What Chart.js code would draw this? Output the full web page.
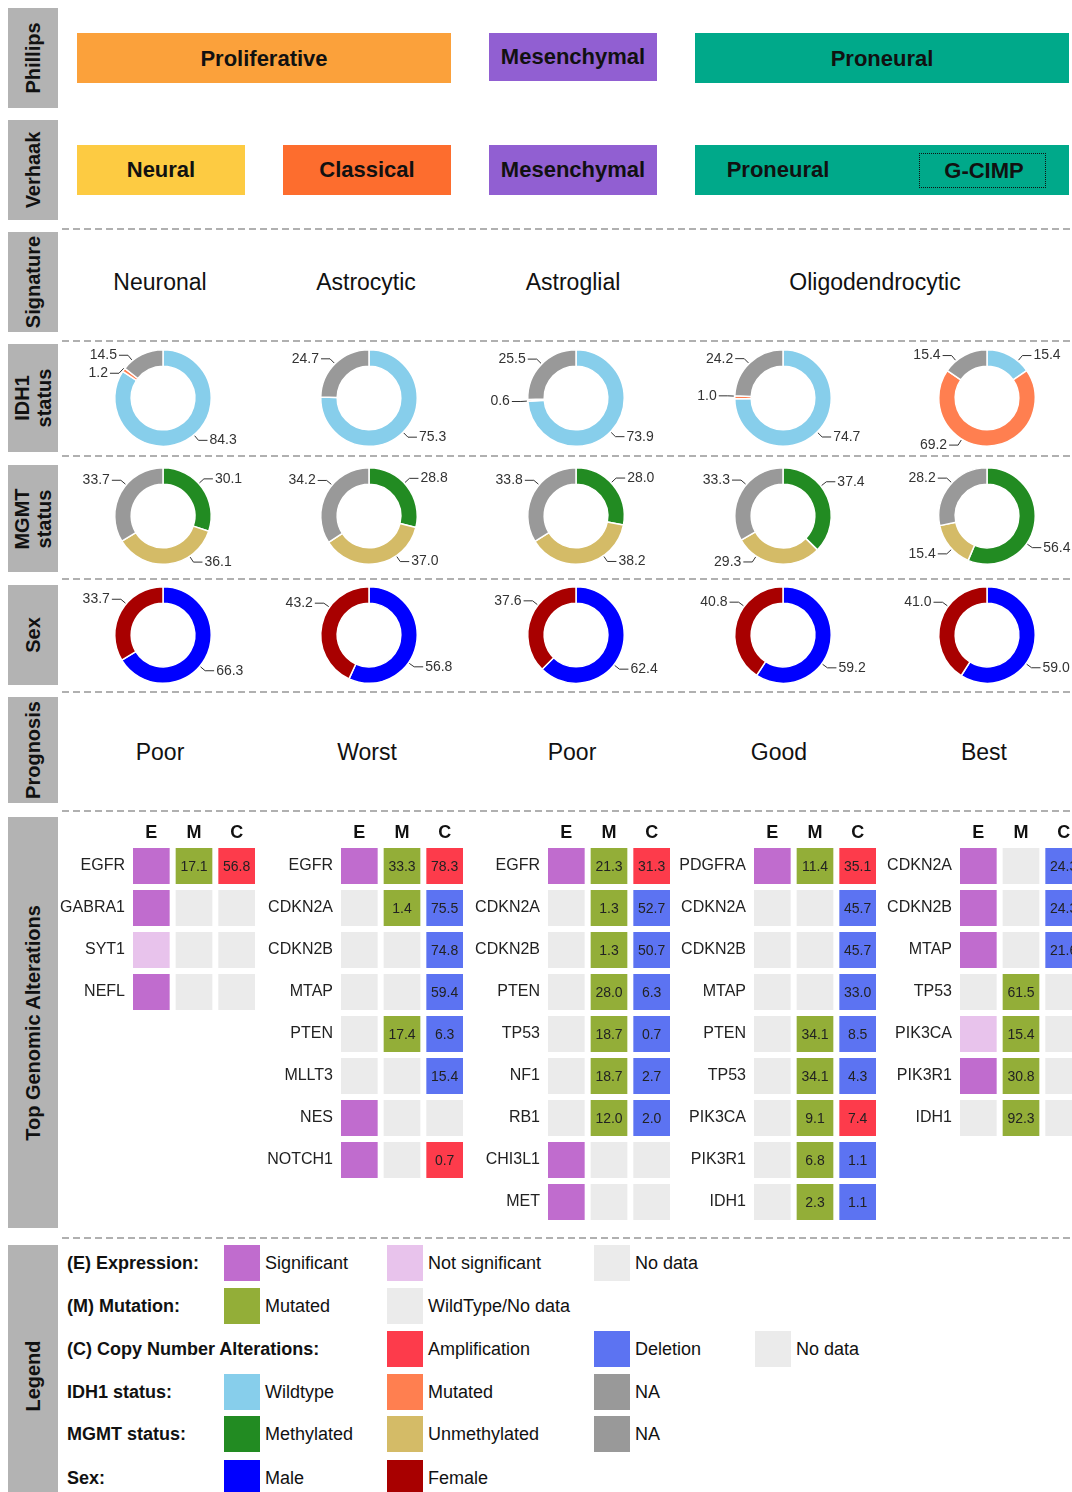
<!DOCTYPE html>
<html>
<head>
<meta charset="utf-8">
<script src="https://cdn.jsdelivr.net/npm/chart.js@4.4.1/dist/chart.umd.min.js"></script>
<style>
body{margin:0;background:#fff;font-family:"Liberation Sans",Arial,sans-serif;}
#page{position:relative;width:1072px;height:1492px;overflow:hidden;}
.side{position:absolute;left:8px;width:50px;background:#b3b3b3;}
.side span{position:absolute;left:50%;top:50%;transform:translate(-50%,-50%) rotate(-90deg);font-weight:bold;font-size:20px;white-space:nowrap;text-align:center;line-height:22px;color:#111;}
.dash{position:absolute;left:62px;width:1010px;height:2px;background:repeating-linear-gradient(90deg,#b0b0b0 0 7px,transparent 7px 11px);}
.box{position:absolute;height:50px;display:flex;align-items:center;justify-content:center;font-weight:bold;font-size:22px;color:#111;}
.txt{position:absolute;font-size:23px;color:#111;transform:translate(-50%,-50%);white-space:nowrap;}
canvas{position:absolute;}
.lg{position:absolute;font-size:18px;color:#111;transform:translateY(-50%);white-space:nowrap;}
.lg.b{font-weight:bold;}
.sw{position:absolute;width:36px;height:36px;transform:translateY(-50%);}
</style>
</head>
<body>
<div id="page"></div>
<script>
// subtype columns
const subtypes = ['Neural', 'Classical', 'Mesenchymal', 'Proneural', 'G-CIMP'];
const signatures = ['Neuronal', 'Astrocytic', 'Astroglial', 'Oligodendrocytic'];
const prognosis = ['Poor', 'Worst', 'Poor', 'Good', 'Best'];

// IDH1 status (%)
const idh1Wildtype = [84.3, 75.3, 73.9, 74.7, 15.4];
const idh1Mutated = [1.2, 0, 0.6, 1.0, 69.2];
const idh1NA = [14.5, 24.7, 25.5, 24.2, 15.4];
// MGMT status (%)
const mgmtMethylated = [30.1, 28.8, 28.0, 37.4, 56.4];
const mgmtUnmethylated = [36.1, 37.0, 38.2, 29.3, 15.4];
const mgmtNA = [33.7, 34.2, 33.8, 33.3, 28.2];
// Sex (%)
const sexMale = [66.3, 56.8, 62.4, 59.2, 59.0];
const sexFemale = [33.7, 43.2, 37.6, 40.8, 41.0];

// genomic alterations: expression S=significant N=not significant ''=no data
// cna kind A=amplification D=deletion
const genesNeural = ['EGFR', 'GABRA1', 'SYT1', 'NEFL'];
const exprNeural = ['S', 'S', 'N', 'S'];
const mutNeural = [17.1, null, null, null];
const cnaNeural = [56.8, null, null, null];
const cnaKindNeural = ['A', '', '', ''];

const genesClassical = ['EGFR', 'CDKN2A', 'CDKN2B', 'MTAP', 'PTEN', 'MLLT3', 'NES', 'NOTCH1'];
const exprClassical = ['S', '', '', '', '', '', 'S', 'S'];
const mutClassical = [33.3, 1.4, null, null, 17.4, null, null, null];
const cnaClassical = [78.3, 75.5, 74.8, 59.4, 6.3, 15.4, null, 0.7];
const cnaKindClassical = ['A', 'D', 'D', 'D', 'D', 'D', '', 'A'];

const genesMesenchymal = ['EGFR', 'CDKN2A', 'CDKN2B', 'PTEN', 'TP53', 'NF1', 'RB1', 'CHI3L1', 'MET'];
const exprMesenchymal = ['S', '', '', '', '', '', '', 'S', 'S'];
const mutMesenchymal = [21.3, 1.3, 1.3, 28.0, 18.7, 18.7, 12.0, null, null];
const cnaMesenchymal = [31.3, 52.7, 50.7, 6.3, 0.7, 2.7, 2.0, null, null];
const cnaKindMesenchymal = ['A', 'D', 'D', 'D', 'D', 'D', 'D', '', ''];

const genesProneural = ['PDGFRA', 'CDKN2A', 'CDKN2B', 'MTAP', 'PTEN', 'TP53', 'PIK3CA', 'PIK3R1', 'IDH1'];
const exprProneural = ['S', '', '', '', '', '', '', '', ''];
const mutProneural = [11.4, null, null, null, 34.1, 34.1, 9.1, 6.8, 2.3];
const cnaProneural = [35.1, 45.7, 45.7, 33.0, 8.5, 4.3, 7.4, 1.1, 1.1];
const cnaKindProneural = ['A', 'D', 'D', 'D', 'D', 'D', 'A', 'D', 'D'];

const genesGCIMP = ['CDKN2A', 'CDKN2B', 'MTAP', 'TP53', 'PIK3CA', 'PIK3R1', 'IDH1'];
const exprGCIMP = ['S', 'S', 'S', '', 'N', 'S', ''];
const mutGCIMP = [null, null, null, 61.5, 15.4, 30.8, 92.3];
const cnaGCIMP = [24.3, 24.3, 21.6, null, null, null, null];
const cnaKindGCIMP = ['D', 'D', 'D', '', '', '', ''];

const C = {
  sig: '#c06cce', notsig: '#e8c3ec', nodata: '#ebebeb', mut: '#93ae38',
  amp: '#fd3b4b', del: '#5c73f2',
  wt: '#87ceeb', idhmut: '#ff7f50', na: '#999999',
  meth: '#228b22', unmeth: '#d4bb67', male: '#0000ff', female: '#a80000'
};

const page = document.getElementById('page');
function add(tag, cls, css, html) {
  const el = document.createElement(tag);
  if (cls) el.className = cls;
  Object.assign(el.style, css);
  if (html !== undefined) el.innerHTML = html;
  page.appendChild(el);
  return el;
}

// row headers
[['Phillips', 8, 100], ['Verhaak', 120, 100], ['Signature', 232, 100], ['IDH1<br>status', 344, 108],
 ['MGMT<br>status', 465, 107], ['Sex', 585, 100], ['Prognosis', 697, 106],
 ['Top Genomic Alterations', 817, 411], ['Legend', 1245, 262]].forEach(([t, y, h]) => {
  const d = add('div', 'side', {top: y + 'px', height: h + 'px'});
  d.innerHTML = '<span>' + t + '</span>';
});
[228, 340, 455, 578, 691, 810, 1237].forEach(y => add('div', 'dash', {top: y + 'px'}));

// subtype boxes
const colX = [163, 369, 576, 783, 987];
add('div', 'box', {left: '77px', top: '33px', width: '374px', background: '#fba13b', paddingTop: '2px', boxSizing: 'border-box'}, 'Proliferative');
add('div', 'box', {left: '489px', top: '33px', width: '168px', height: '48px', background: '#915fd2'}, 'Mesenchymal');
add('div', 'box', {left: '695px', top: '33px', width: '374px', background: '#00a98a', paddingTop: '2px', boxSizing: 'border-box'}, 'Proneural');
add('div', 'box', {left: '77px', top: '145px', width: '168px', background: '#fdcb42'}, subtypes[0]);
add('div', 'box', {left: '283px', top: '145px', width: '168px', background: '#fd6d2e'}, subtypes[1]);
add('div', 'box', {left: '489px', top: '145px', width: '168px', background: '#915fd2'}, subtypes[2]);
add('div', 'box', {left: '695px', top: '145px', width: '374px', background: '#00a98a'});
add('div', 'box', {left: '700px', top: '145px', width: '156px', background: 'transparent'}, subtypes[3]);
add('div', 'box', {left: '919px', top: '153px', width: '122px', height: '33px', border: '1.5px dotted #111', paddingLeft: '3px', boxSizing: 'content-box'}, subtypes[4]);

// signature and prognosis text
[160, 366, 573, 875].forEach((x, i) => add('div', 'txt', {left: x + 'px', top: '282px'}, signatures[i]));
[160, 367, 572, 779, 984].forEach((x, i) => add('div', 'txt', {left: x + 'px', top: '752px'}, prognosis[i]));

// doughnut label plugin with leader lines; labels lean toward the diagonals
const arcLabels = {
  id: 'arcLabels',
  afterDatasetsDraw(chart) {
    const ctx = chart.ctx;
    const vals = chart.data.datasets[0].data;
    const items = [];
    chart.getDatasetMeta(0).data.forEach((arc, i) => {
      const v = vals[i];
      if (!v) return;
      const p = arc.getProps(['x', 'y', 'startAngle', 'endAngle', 'outerRadius'], true);
      let a = (p.startAngle + p.endAngle) / 2;
      const q = Math.PI / 4;
      let diag = Math.round((a - q) / (2 * q) + 1e-6) * 2 * q + q;
      diag = Math.max(p.startAngle, Math.min(p.endAngle, diag));
      a = a + 0.7 * (diag - a);
      const r0 = p.outerRadius + 1, r1 = p.outerRadius + 7;
      items.push({
        v, right: Math.cos(a) >= 0,
        x0: p.x + Math.cos(a) * r0, y0: p.y + Math.sin(a) * r0,
        x1: p.x + Math.cos(a) * r1, y1: p.y + Math.sin(a) * r1, ly: p.y + Math.sin(a) * r1
      });
    });
    // keep labels on one side apart
    [true, false].forEach(side => {
      const s = items.filter(it => it.right === side).sort((a, b) => a.ly - b.ly);
      for (let k = 1; k < s.length; k++) {
        if (s[k].ly - s[k - 1].ly < 18) s[k].ly = s[k - 1].ly + 18;
      }
    });
    ctx.save();
    ctx.font = '14px "Liberation Sans", Arial, sans-serif';
    ctx.fillStyle = '#333';
    ctx.strokeStyle = '#333';
    ctx.lineWidth = 1;
    items.forEach(it => {
      const x2 = it.x1 + (it.right ? 9 : -9);
      ctx.beginPath();
      ctx.moveTo(it.x0, it.y0); ctx.lineTo(it.x1, it.ly); ctx.lineTo(x2, it.ly);
      ctx.stroke();
      ctx.textAlign = it.right ? 'left' : 'right';
      ctx.textBaseline = 'middle';
      ctx.fillText(it.v.toFixed(1), x2 + (it.right ? 2 : -2), it.ly);
    });
    ctx.restore();
  }
};

function doughnut(cx, cy, labels, values, colors) {
  const cv = add('canvas', '', {left: (cx - 120) + 'px', top: (cy - 62) + 'px'});
  cv.width = 240; cv.height = 124;
  new Chart(cv, {
    type: 'doughnut',
    data: {labels, datasets: [{data: values, backgroundColor: colors, borderColor: '#fff', borderWidth: 1.5}]},
    options: {
      responsive: false, animation: false, cutout: '66%',
      layout: {padding: {top: 13, bottom: 13}},
      plugins: {legend: {display: false}, tooltip: {enabled: false}}
    },
    plugins: [arcLabels]
  });
}

subtypes.forEach((s, i) => {
  doughnut(colX[i], 398, ['Wildtype', 'Mutated', 'NA'], [idh1Wildtype[i], idh1Mutated[i], idh1NA[i]], [C.wt, C.idhmut, C.na]);
  doughnut(colX[i], 516, ['Methylated', 'Unmethylated', 'NA'], [mgmtMethylated[i], mgmtUnmethylated[i], mgmtNA[i]], [C.meth, C.unmeth, C.na]);
  doughnut(colX[i], 635, ['Male', 'Female'], [sexMale[i], sexFemale[i]], [C.male, C.female]);
});

// heatmaps
const cellLabels = {
  id: 'cellLabels',
  afterDatasetsDraw(chart) {
    const ctx = chart.ctx;
    ctx.save();
    ctx.font = '14px "Liberation Sans", Arial, sans-serif';
    ctx.fillStyle = '#222';
    ctx.textAlign = 'center';
    ctx.textBaseline = 'middle';
    chart.data.datasets.forEach((ds, di) => {
      if (!ds.texts) return;
      chart.getDatasetMeta(di).data.forEach((el, i) => {
        const v = ds.texts[i];
        if (v === null || v === undefined) return;
        const c = el.getCenterPoint();
        ctx.fillText(v.toFixed(1), c.x, c.y + 1);
      });
    });
    ctx.restore();
  }
};

const YW = 72, AW = 128, ROW = 42, HEAD = 30;
function heatmap(ex, genes, expr, mut, cna, kind) {
  const n = genes.length;
  const cv = add('canvas', '', {left: (ex - AW / 6 - YW) + 'px', top: (845 - HEAD) + 'px'});
  cv.width = YW + AW; cv.height = HEAD + ROW * n;
  const bw = {left: 3, right: 3, top: 0, bottom: 0};
  const common = {borderColor: '#fff', borderWidth: bw, borderSkipped: false, barPercentage: 36 / 42, categoryPercentage: 1};
  new Chart(cv, {
    type: 'bar',
    data: {
      labels: genes,
      datasets: [
        Object.assign({label: 'E', data: genes.map(() => 1),
          backgroundColor: expr.map(e => e === 'S' ? C.sig : e === 'N' ? C.notsig : C.nodata)}, common),
        Object.assign({label: 'M', data: genes.map(() => 1), texts: mut,
          backgroundColor: mut.map(m => m === null ? C.nodata : C.mut)}, common),
        Object.assign({label: 'C', data: genes.map(() => 1), texts: cna,
          backgroundColor: kind.map(k => k === 'A' ? C.amp : k === 'D' ? C.del : C.nodata)}, common)
      ]
    },
    options: {
      indexAxis: 'y', responsive: false, animation: false,
      layout: {padding: 0},
      plugins: {legend: {display: false}, tooltip: {enabled: false}},
      scales: {
        x: {
          type: 'linear', position: 'top', stacked: true, min: 0, max: 3,
          grid: {display: false, drawTicks: false}, border: {display: false},
          afterBuildTicks: s => { s.ticks = [{value: 0.5}, {value: 1.5}, {value: 2.5}]; },
          ticks: {callback: (v, i) => ['E', 'M', 'C'][i], color: '#111', padding: 1,
            font: {family: '"Liberation Sans", Arial', size: 18, weight: 'bold'}},
          afterFit: s => { s.height = HEAD; s.paddingLeft = 0; s.paddingRight = 0; }
        },
        y: {
          type: 'category', stacked: true,
          grid: {display: false, drawTicks: false}, border: {display: false},
          ticks: {color: '#222', padding: 5, font: {family: '"Liberation Sans", Arial', size: 16}},
          afterFit: s => { s.width = YW; s.paddingTop = 0; s.paddingBottom = 0; }
        }
      }
    },
    plugins: [cellLabels]
  });
}
heatmap(151, genesNeural, exprNeural, mutNeural, cnaNeural, cnaKindNeural);
heatmap(359, genesClassical, exprClassical, mutClassical, cnaClassical, cnaKindClassical);
heatmap(566, genesMesenchymal, exprMesenchymal, mutMesenchymal, cnaMesenchymal, cnaKindMesenchymal);
heatmap(772, genesProneural, exprProneural, mutProneural, cnaProneural, cnaKindProneural);
heatmap(978, genesGCIMP, exprGCIMP, mutGCIMP, cnaGCIMP, cnaKindGCIMP);

// legend
const legendRows = [
  ['(E) Expression:', [[224, C.sig, 'Significant'], [387, C.notsig, 'Not significant'], [594, C.nodata, 'No data']]],
  ['(M) Mutation:', [[224, C.mut, 'Mutated'], [387, C.nodata, 'WildType/No data']]],
  ['(C) Copy Number Alterations:', [[387, C.amp, 'Amplification'], [594, C.del, 'Deletion'], [755, C.nodata, 'No data']]],
  ['IDH1 status:', [[224, C.wt, 'Wildtype'], [387, C.idhmut, 'Mutated'], [594, C.na, 'NA']]],
  ['MGMT status:', [[224, C.meth, 'Methylated'], [387, C.unmeth, 'Unmethylated'], [594, C.na, 'NA']]],
  ['Sex:', [[224, C.male, 'Male'], [387, C.female, 'Female']]]
];
const legendY = [1263, 1306, 1349, 1392, 1434, 1478];
legendRows.forEach(([title, items], r) => {
  const y = legendY[r] + 'px';
  add('div', 'lg b', {left: '67px', top: y}, title);
  items.forEach(([x, col, t]) => {
    add('div', 'sw', {left: x + 'px', top: y, background: col});
    add('div', 'lg', {left: (x + 41) + 'px', top: y}, t);
  });
});
</script>
</body>
</html>
